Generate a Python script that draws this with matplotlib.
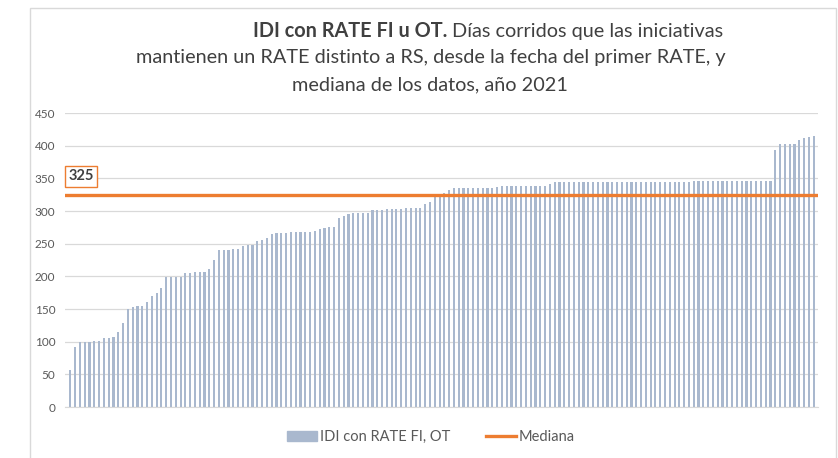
import matplotlib.pyplot as plt
import matplotlib.patches as mpatches
from matplotlib.lines import Line2D
import numpy as np

# dias corridos por iniciativa (ordenados)
dias = [57, 92, 99, 99, 100, 101, 101, 105, 106, 107,
        115, 128, 150, 153, 154, 155, 161, 170, 175, 182,
        199, 199, 199, 199, 205, 205, 206, 206, 206, 211,
        225, 240, 241, 241, 242, 242, 247, 248, 248, 254,
        255, 259, 265, 267, 267, 267, 268, 268, 268, 268,
        268, 270, 273, 274, 275, 275, 290, 293, 296, 297,
        297, 297, 297, 301, 302, 302, 303, 303, 303, 303,
        304, 304, 304, 304, 311, 314, 321, 323, 327, 332,
        335, 335, 335, 335, 335, 335, 335, 335, 335, 337,
        338, 338, 339, 339, 339, 339, 339, 339, 339, 339,
        342, 344, 344, 344, 344, 344, 344, 344, 344, 344,
        345, 345, 345, 345, 345, 345, 345, 345, 345, 345,
        345, 345, 345, 345, 345, 345, 345, 345, 345, 345,
        346, 346, 346, 346, 346, 346, 346, 346, 346, 346,
        346, 346, 346, 346, 346, 346, 346, 393, 402, 402,
        402, 402, 408, 412, 413, 415]
yticks = [0, 50, 100, 150, 200, 250, 300, 350, 400, 450]

mediana = np.median(dias)
x = np.arange(len(dias))

plt.rcParams['font.family'] = ['Lato', 'DejaVu Sans']

fig = plt.figure(figsize=(8.38, 4.58), dpi=100)
ax = fig.add_axes([65/838, 51/458, 753/838, 294/458])

bar_color = "#A9B8CE"
orange = "#ED7D31"

ax.bar(x, dias, width=0.45, color=bar_color, zorder=2)
ax.axhline(mediana, color=orange, lw=2.4, zorder=3)

ax.set_xlim(-1.1, len(dias) - 0.1)
ax.set_ylim(0, 450)
ax.set_yticks(yticks)
ax.set_xticks([])
ax.tick_params(axis="y", length=0, labelsize=8.5, labelcolor="#595959", pad=7)
ax.grid(axis="y", color="#D9D9D9", lw=0.9, zorder=0)
for s in ["top", "right", "left"]:
    ax.spines[s].set_visible(False)
ax.spines["bottom"].set_color("#D9D9D9")

ax.text(-0.4, 353, f"{mediana:.0f}", fontsize=10.5, fontweight="bold", color="#404040",
        ha="left", va="center", zorder=4,
        bbox=dict(boxstyle="square,pad=0.25", fc="white", ec=orange, lw=1))

# marco del grafico
fig.patches.append(mpatches.Rectangle((30/838, -0.01), 806/838, 1 - 8/458 + 0.01,
                                      transform=fig.transFigure, fill=False,
                                      ec="#D9D9D9", lw=1))

# titulo
fs = 14.3
tcol = "#404040"
t1 = fig.text(253/838, 1 - 31/458, "IDI con RATE FI u OT.", fontsize=fs, fontweight="bold",
              color=tcol, ha="left", va="center")
fig.canvas.draw()
bb = t1.get_window_extent()
fig.text(bb.x1 / 838 + 5/838, 1 - 31/458, "Días corridos que las iniciativas", fontsize=fs,
         color=tcol, ha="left", va="center")
fig.text(431/838, 1 - 58/458, "mantienen un RATE distinto a RS, desde la fecha del primer RATE, y",
         fontsize=fs, color=tcol, ha="center", va="center")
fig.text(430/838, 1 - 85/458, "mediana de los datos, año 2021", fontsize=fs,
         color=tcol, ha="center", va="center")

handles = [mpatches.Patch(color=bar_color, label="IDI con RATE FI, OT"),
           Line2D([0], [0], color=orange, lw=2.4, label="Mediana")]
fig.legend(handles=handles, loc="center", bbox_to_anchor=(431/838, 1 - 437/458),
           ncol=2, frameon=False, fontsize=10.5, handlelength=2.0, handletextpad=0.2,
           columnspacing=2.5, labelcolor="#595959")

fig.savefig("out.png", dpi=100)
